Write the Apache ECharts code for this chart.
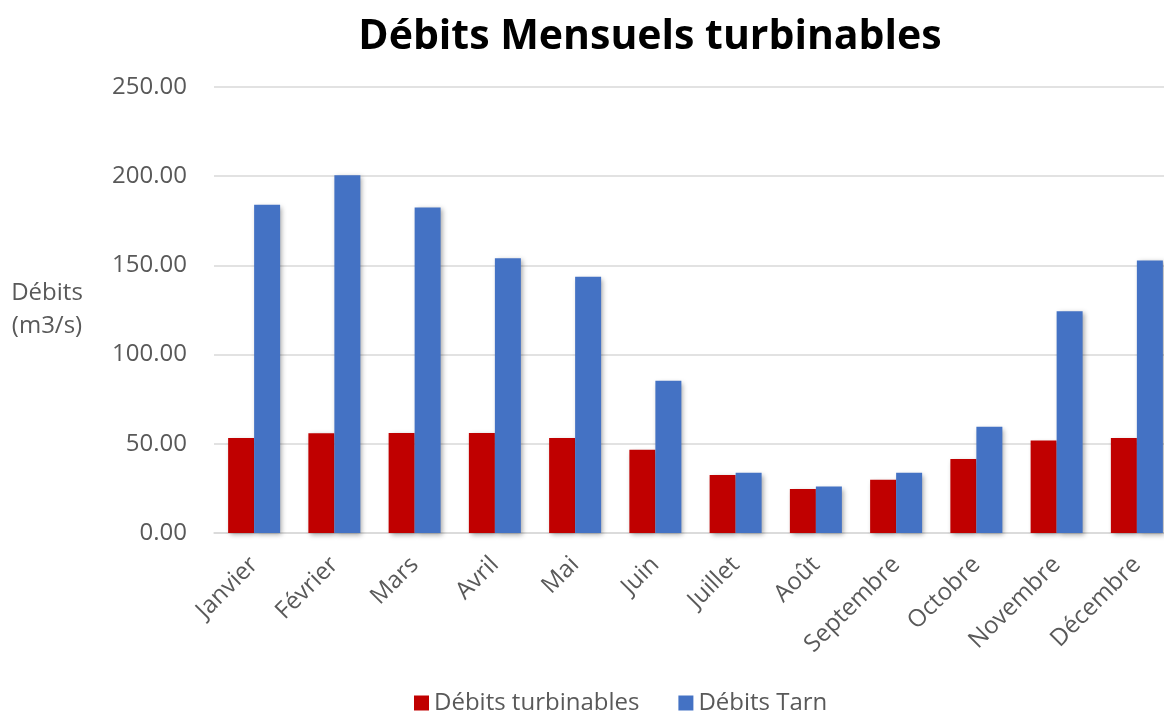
<!DOCTYPE html>
<html><head><meta charset="utf-8">
<script src="https://cdn.jsdelivr.net/npm/echarts@6/dist/echarts.min.js"></script>
<style>html,body{margin:0;padding:0;background:#fff;overflow:hidden;width:1164px;height:713px}#c{width:1180px;height:713px}</style>
</head><body><div id="c"></div>
<script>
const months = ['Janvier','Février','Mars','Avril','Mai','Juin','Juillet','Août','Septembre','Octobre','Novembre','Décembre'];
const debitsTurbinables = [53.3, 55.9, 56.0, 56.0, 53.3, 46.7, 32.5, 24.7, 29.9, 41.5, 51.8, 53.3];
const debitsTarn = [184.0, 200.5, 182.5, 154.0, 143.7, 85.4, 33.8, 26.0, 33.8, 59.6, 124.3, 152.8];
const yTicks = {min: 0, max: 250, interval: 50};

const font = '"Open Sans", sans-serif';
const grey = '#595959';
const shadow = {shadowBlur: 5, shadowColor: 'rgba(0,0,0,0.35)', shadowOffsetX: 2, shadowOffsetY: 2};
const chart = echarts.init(document.getElementById('c'), null, {renderer: 'canvas'});
chart.setOption({
  animation: false,
  title: {text: 'Débits Mensuels turbinables', left: 645, top: 12, textAlign: 'center',
    textStyle: {fontFamily: font, fontWeight: 'bold', fontSize: 41, color: '#000'}},
  grid: {left: 214, top: 87, width: 963, height: 446, containLabel: false},
  legend: {top: 689, left: 414, padding: 0, itemWidth: 15, itemHeight: 15, itemGap: 39,
    icon: 'rect', textStyle: {fontFamily: font, fontSize: 24, lineHeight: 28, color: grey}},
  xAxis: {type: 'category', data: months,
    axisLine: {lineStyle: {color: '#D9D9D9', width: 1.5}}, axisTick: {show: false},
    axisLabel: {rotate: 45, margin: 28, fontFamily: font, fontSize: 24, color: grey, interval: 0}},
  yAxis: {type: 'value', min: yTicks.min, max: yTicks.max, interval: yTicks.interval,
    name: 'Débits\n(m3/s)', nameLocation: 'middle', nameRotate: 0, nameGap: 167,
    nameTextStyle: {fontFamily: font, fontSize: 24, color: grey, align: 'center', lineHeight: 33},
    axisLine: {show: false}, axisTick: {show: false},
    splitLine: {lineStyle: {color: '#D9D9D9', width: 1.5}},
    axisLabel: {margin: 27, fontFamily: font, fontSize: 24, color: grey,
      formatter: v => v.toFixed(2)}},
  series: [
    {name: 'Débits turbinables', type: 'bar', data: debitsTurbinables, barWidth: 26, barGap: '0%',
      itemStyle: Object.assign({color: '#C00000'}, shadow)},
    {name: 'Débits Tarn', type: 'bar', data: debitsTarn, barWidth: 26, barGap: '0%',
      itemStyle: Object.assign({color: '#4472C4'}, shadow)}
  ]
});
</script></body></html>
